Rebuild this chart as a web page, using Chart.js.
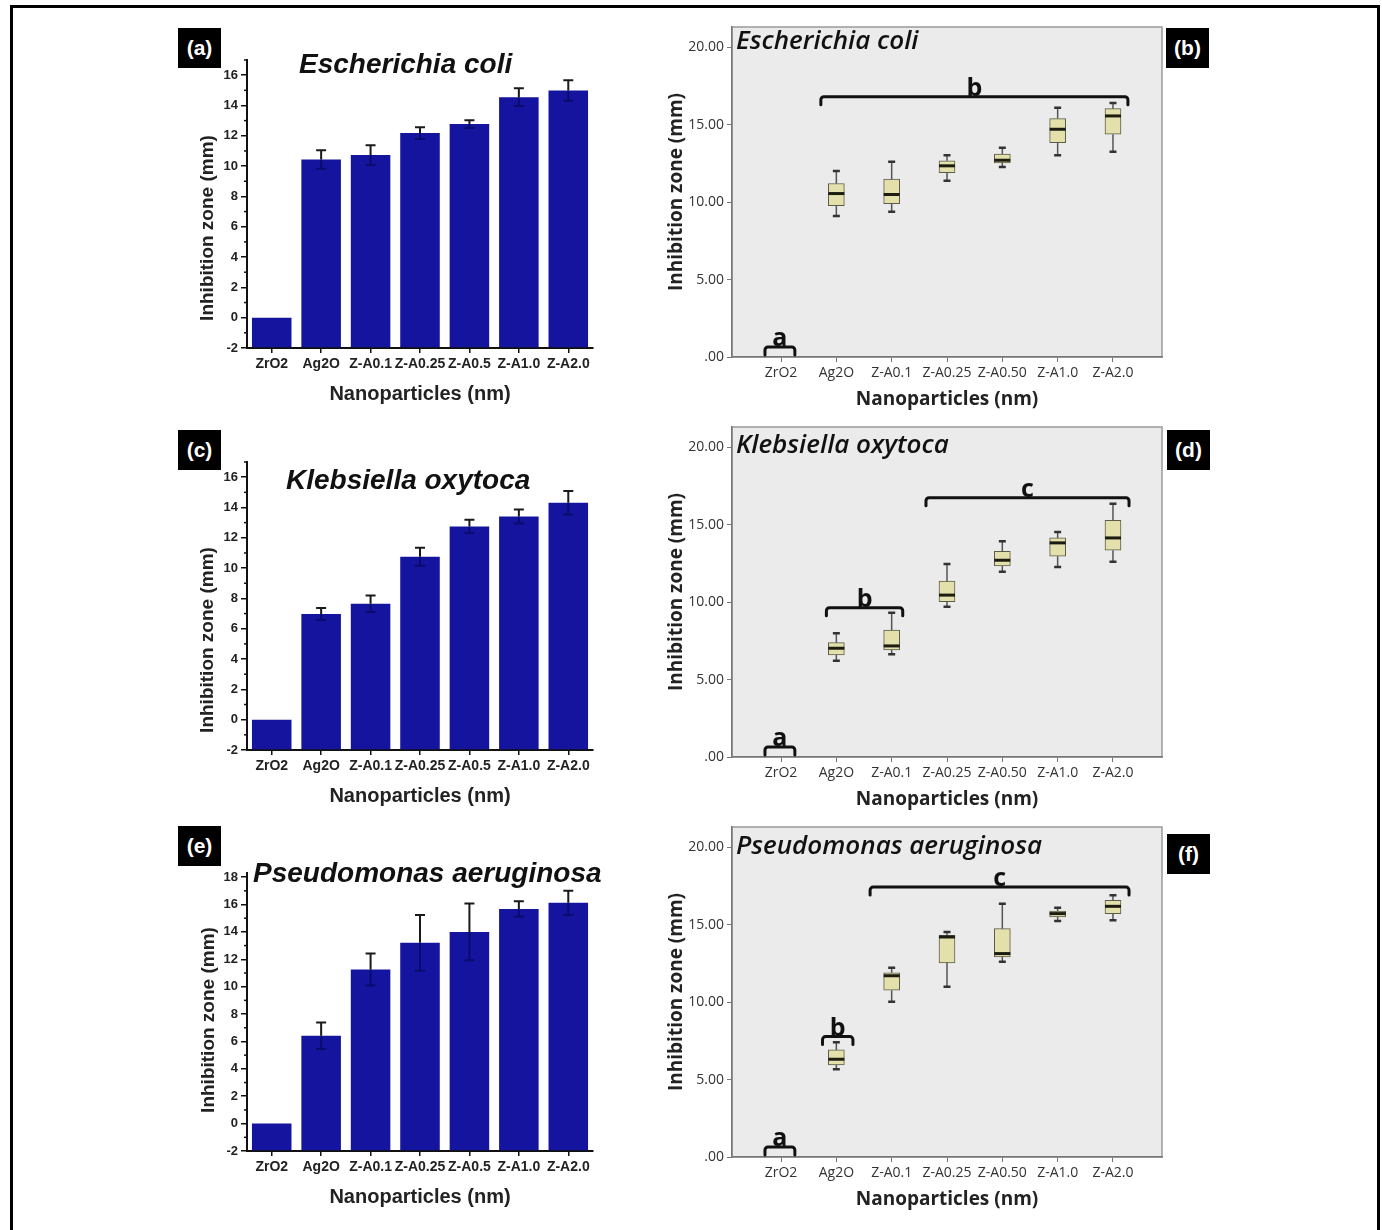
<!DOCTYPE html>
<html><head><meta charset="utf-8">
<script src="https://cdn.jsdelivr.net/npm/chart.js@4.4.1/dist/chart.umd.min.js"></script>
<style>
html,body{margin:0;padding:0;background:#fff;width:1382px;height:1230px;overflow:hidden;position:relative;}
.frame{position:absolute;left:10px;top:5px;width:1370px;height:1240px;border:3px solid #000;box-sizing:border-box;}
.pnl{position:absolute;}
.tag{position:absolute;background:#000;color:#fff;font:bold 21px 'Liberation Sans Narrow','Liberation Sans',Arial,sans-serif;width:43px;height:40px;display:flex;align-items:center;justify-content:center;}
.sp{position:absolute;font:italic bold 28px 'Liberation Sans',Arial,sans-serif;color:#111;line-height:30px;white-space:nowrap;}
.sp2{position:absolute;font:italic 600 26px 'Open Sans',sans-serif;color:#111;line-height:30px;white-space:nowrap;}
.ytitle{position:absolute;font:bold 19px 'Liberation Sans',Arial,sans-serif;color:#222;white-space:nowrap;transform:translate(-50%,-50%) rotate(-90deg);}
</style></head>
<body>
<div class="frame"></div>

<canvas id="ca" class="pnl" width="455" height="390" style="left:150px;top:20px"></canvas>
<canvas id="cc" class="pnl" width="455" height="390" style="left:150px;top:422px"></canvas>
<canvas id="ce" class="pnl" width="455" height="380" style="left:150px;top:833px"></canvas>
<canvas id="cb" class="pnl" width="530" height="405" style="left:640px;top:10px"></canvas>
<canvas id="cd" class="pnl" width="530" height="405" style="left:640px;top:410px"></canvas>
<canvas id="cf" class="pnl" width="530" height="405" style="left:640px;top:810px"></canvas>

<div class="ytitle" style="left:207px;top:228px">Inhibition zone (mm)</div>
<div class="ytitle" style="left:207px;top:640px">Inhibition zone (mm)</div>
<div class="ytitle" style="left:208px;top:1020px">Inhibition zone (mm)</div>

<div class="sp" style="left:299px;top:49px">Escherichia coli</div>
<div class="sp" style="left:286px;top:465px">Klebsiella oxytoca</div>
<div class="sp" style="left:253px;top:858px">Pseudomonas aeruginosa</div>

<div class="sp2" style="left:736px;top:24px">Escherichia coli</div>
<div class="sp2" style="left:736px;top:428px">Klebsiella oxytoca</div>
<div class="sp2" style="left:736px;top:829px">Pseudomonas aeruginosa</div>

<div class="tag" style="left:178px;top:28px">(a)</div>
<div class="tag" style="left:1166px;top:28px">(b)</div>
<div class="tag" style="left:178px;top:430px">(c)</div>
<div class="tag" style="left:1167px;top:430px">(d)</div>
<div class="tag" style="left:178px;top:826px">(e)</div>
<div class="tag" style="left:1167px;top:834px">(f)</div>

<script>
// ---------- data ----------
const categories = ['ZrO2','Ag2O','Z-A0.1','Z-A0.25','Z-A0.5','Z-A1.0','Z-A2.0'];
const boxCategories = ['ZrO2','Ag2O','Z-A0.1','Z-A0.25','Z-A0.50','Z-A1.0','Z-A2.0'];

// bar charts: mean and error (SD)
const ecoliMean  = [0, 10.44, 10.73, 12.18, 12.77, 14.55, 14.99];
const ecoliErr   = [0, 0.61, 0.65, 0.39, 0.26, 0.59, 0.68];
const klebMean   = [0, 6.97, 7.65, 10.75, 12.75, 13.41, 14.31];
const klebErr    = [0, 0.39, 0.55, 0.59, 0.44, 0.46, 0.77];
const pseudoMean = [0, 6.41, 11.26, 13.20, 14.00, 15.68, 16.12];
const pseudoErr  = [0, 0.97, 1.17, 2.04, 2.07, 0.56, 0.88];

// box plots: min, q1, median, q3, max
const ecoliMin = [0, 9.10, 9.38, 11.37, 12.27, 13.03, 13.24];
const ecoliQ1  = [0, 9.76, 9.90, 11.89, 12.53, 13.84, 14.38];
const ecoliMed = [0, 10.55, 10.49, 12.34, 12.70, 14.70, 15.56];
const ecoliQ3  = [0, 11.20, 11.48, 12.66, 13.09, 15.39, 16.03];
const ecoliMax = [0, 12.00, 12.60, 13.03, 13.50, 16.09, 16.39];

const klebMin = [0, 6.22, 6.63, 9.70, 11.95, 12.27, 12.60];
const klebQ1  = [0, 6.59, 6.91, 10.02, 12.34, 12.96, 13.35];
const klebMed = [0, 7.02, 7.17, 10.45, 12.70, 13.82, 14.14];
const klebQ3  = [0, 7.38, 8.20, 11.35, 13.28, 14.14, 15.28];
const klebMax = [0, 7.98, 9.31, 12.45, 13.93, 14.53, 16.35];

const pseudoMin = [0, 5.67, 10.02, 10.99, 12.60, 15.24, 15.28];
const pseudoQ1  = [0, 5.94, 10.77, 12.53, 12.92, 15.49, 15.71];
const pseudoMed = [0, 6.31, 11.70, 14.20, 13.13, 15.71, 16.18];
const pseudoQ3  = [0, 6.91, 11.89, 14.31, 14.74, 15.88, 16.57];
const pseudoMax = [0, 7.40, 12.21, 14.53, 16.35, 16.09, 16.89];

// significance groups (x in category index units, y in mm)
const ecoliGroupLabel = ['a','b'];
const ecoliGroupFrom  = [-0.29, 0.72];
const ecoliGroupTo    = [0.25, 6.27];
const ecoliGroupY     = [0.65, 16.80];

const klebGroupLabel = ['a','b','c'];
const klebGroupFrom  = [-0.29, 0.82, 2.62];
const klebGroupTo    = [0.25, 2.20, 6.29];
const klebGroupY     = [0.65, 9.63, 16.74];

const pseudoGroupLabel = ['a','b','c'];
const pseudoGroupFrom  = [-0.29, 0.75, 1.61];
const pseudoGroupTo    = [0.25, 1.30, 6.29];
const pseudoGroupY     = [0.65, 7.77, 17.42];

// ---------- bar charts ----------
function makeBarChart(id, means, errs, yMax){
  const deco = {
    id:'deco_'+id,
    afterDatasetsDraw(chart){
      const {ctx, scales:{x,y}} = chart;
      ctx.save();
      means.forEach((m,i)=>{
        const e = errs[i]; if(!e) return;
        const px = x.getPixelForValue(i);
        const top = y.getPixelForValue(m+e), mid = y.getPixelForValue(m), bot = y.getPixelForValue(m-e);
        ctx.lineWidth = 2;
        ctx.strokeStyle = 'rgba(0,0,50,0.45)';
        ctx.beginPath(); ctx.moveTo(px, mid); ctx.lineTo(px, bot); ctx.moveTo(px-5,bot); ctx.lineTo(px+5,bot); ctx.stroke();
        ctx.strokeStyle = '#1a1a1a';
        ctx.beginPath(); ctx.moveTo(px, mid); ctx.lineTo(px, top); ctx.moveTo(px-5, top); ctx.lineTo(px+5, top); ctx.stroke();
      });
      // minor ticks on y axis
      ctx.strokeStyle = '#111'; ctx.lineWidth = 1.5;
      const ax = chart.chartArea.left;
      for(let v=-1; v<=yMax; v+=2){
        const py = y.getPixelForValue(v);
        ctx.beginPath(); ctx.moveTo(ax, py); ctx.lineTo(ax-3, py); ctx.stroke();
      }
      ctx.restore();
    }
  };
  return new Chart(document.getElementById(id), {
    type:'bar',
    data:{labels:categories, datasets:[{data:means, base:-2, backgroundColor:'#14149e', borderWidth:0, barPercentage:0.8, categoryPercentage:1}]},
    options:{
      responsive:false, animation:false,
      layout:{padding:{left:42, right:12, top:40, bottom:0}},
      plugins:{legend:{display:false}, tooltip:{enabled:false}},
      scales:{
        x:{offset:true,
           grid:{drawOnChartArea:false, offset:false, tickLength:5, color:'#111', lineWidth:1.5},
           border:{color:'#111', width:2},
           ticks:{autoSkip:false, maxRotation:0, minRotation:0, color:'#222', padding:3, font:{family:'Liberation Sans, Arial', weight:'bold', size:14}},
           title:{display:true, text:'Nanoparticles (nm)', color:'#222', font:{family:'Liberation Sans, Arial', weight:'bold', size:20}},
           afterFit(s){ s.height = 62; }},
        y:{min:-2, max:yMax,
           grid:{drawOnChartArea:false, tickLength:6, color:'#111', lineWidth:1.5},
           border:{color:'#111', width:2},
           ticks:{stepSize:2, includeBounds:false, color:'#222', padding:3, font:{family:'Liberation Sans, Arial', weight:'bold', size:13}},
           afterFit(s){ s.width = 55; }}
      }
    },
    plugins:[deco]
  });
}
makeBarChart('ca', ecoliMean, ecoliErr, 17);
makeBarChart('cc', klebMean, klebErr, 17);
makeBarChart('ce', pseudoMean, pseudoErr, 18.3);

// ---------- box plots ----------
function makeBoxChart(id, mins, q1, med, q3, maxs, gLabel, gFrom, gTo, gY){
  const deco = {
    id:'box_'+id,
    beforeDraw(chart){
      const {ctx, chartArea:a} = chart;
      ctx.save();
      ctx.fillStyle = '#ebebeb';
      ctx.fillRect(a.left, a.top, a.right-a.left, a.bottom-a.top);
      ctx.strokeStyle = '#9a9a9a'; ctx.lineWidth = 1.5;
      ctx.strokeRect(a.left, a.top, a.right-a.left, a.bottom-a.top);
      ctx.restore();
    },
    afterDatasetsDraw(chart){
      const {ctx, scales:{x,y}} = chart;
      ctx.save();
      const half = 8, cap = 3.5;
      med.forEach((m,i)=>{
        if(maxs[i]===mins[i]) return;
        const px = x.getPixelForValue(i);
        const yMax = y.getPixelForValue(maxs[i]), yQ3 = y.getPixelForValue(q3[i]);
        const yMin = y.getPixelForValue(mins[i]), yQ1 = y.getPixelForValue(q1[i]);
        ctx.strokeStyle = '#555'; ctx.lineWidth = 1.5;
        ctx.beginPath();
        ctx.moveTo(px, yQ3); ctx.lineTo(px, yMax);
        ctx.moveTo(px, yQ1); ctx.lineTo(px, yMin);
        ctx.stroke();
        ctx.strokeStyle = '#333'; ctx.lineWidth = 2.5;
        ctx.beginPath();
        ctx.moveTo(px-cap, yMax); ctx.lineTo(px+cap, yMax);
        ctx.moveTo(px-cap, yMin); ctx.lineTo(px+cap, yMin);
        ctx.stroke();
        const ym = y.getPixelForValue(m);
        ctx.strokeStyle = '#1c1c10'; ctx.lineWidth = 3;
        ctx.beginPath(); ctx.moveTo(px-half, ym); ctx.lineTo(px+half, ym); ctx.stroke();
      });
      // group brackets
      ctx.strokeStyle = '#111'; ctx.lineWidth = 3; ctx.lineJoin = 'round'; ctx.lineCap = 'round';
      ctx.fillStyle = '#111';
      ctx.font = 'bold 25px "Open Sans", sans-serif';
      ctx.textAlign = 'center'; ctx.textBaseline = 'alphabetic';
      gLabel.forEach((lab,k)=>{
        const x1 = x.getPixelForValue(gFrom[k]), x2 = x.getPixelForValue(gTo[k]);
        const yy = y.getPixelForValue(gY[k]);
        const drop = 8, r = 3;
        ctx.beginPath();
        ctx.moveTo(x1, yy+drop); ctx.lineTo(x1, yy+r);
        ctx.arcTo(x1, yy, x1+r, yy, r);
        ctx.lineTo(x2-r, yy);
        ctx.arcTo(x2, yy, x2, yy+r, r);
        ctx.lineTo(x2, yy+drop);
        ctx.stroke();
        ctx.fillText(lab, (x1+x2)/2, yy-1);
      });
      ctx.restore();
    }
  };
  return new Chart(document.getElementById(id), {
    type:'bar',
    data:{datasets:[{
      data: q1.map((v,i)=>({x:i, y:[v, q3[i]]})),
      backgroundColor:'#e4e0ac', borderColor:'#5c5c48', borderWidth:1, borderSkipped:false, barThickness:16
    }]},
    options:{
      responsive:false, animation:false,
      layout:{padding:{left:21, right:8, top:17, bottom:0}},
      plugins:{legend:{display:false}, tooltip:{enabled:false}},
      scales:{
        x:{type:'linear', min:-0.886, max:6.886, offset:false,
           afterBuildTicks(s){ s.ticks = boxCategories.map((c,i)=>({value:i})); },
           grid:{drawOnChartArea:false, offset:false, tickLength:5, color:'#777', lineWidth:1},
           border:{color:'#777', width:1.5},
           ticks:{autoSkip:false, maxRotation:0, minRotation:0, color:'#333', padding:3,
                  font:{family:'Open Sans', size:14}, callback:(v)=>boxCategories[v]},
           title:{display:true, text:'Nanoparticles (nm)', color:'#222', font:{family:'Open Sans', weight:'bold', size:19}},
           afterFit(s){ s.height = 58; }},
        y:{min:0, max:21.3,
           grid:{drawOnChartArea:false, tickLength:5, color:'#777', lineWidth:1},
           border:{color:'#777', width:1.5},
           ticks:{stepSize:5, includeBounds:false, color:'#333', padding:3, font:{family:'Open Sans', size:14},
                  callback:(v)=> v===0 ? '.00' : v.toFixed(2)},
           title:{display:true, text:'Inhibition zone (mm)', color:'#222', font:{family:'Open Sans', weight:'bold', size:19}},
           afterFit(s){ s.width = 71; }}
      }
    },
    plugins:[deco]
  });
}
makeBoxChart('cb', ecoliMin, ecoliQ1, ecoliMed, ecoliQ3, ecoliMax, ecoliGroupLabel, ecoliGroupFrom, ecoliGroupTo, ecoliGroupY);
makeBoxChart('cd', klebMin, klebQ1, klebMed, klebQ3, klebMax, klebGroupLabel, klebGroupFrom, klebGroupTo, klebGroupY);
makeBoxChart('cf', pseudoMin, pseudoQ1, pseudoMed, pseudoQ3, pseudoMax, pseudoGroupLabel, pseudoGroupFrom, pseudoGroupTo, pseudoGroupY);
</script>
</body></html>
